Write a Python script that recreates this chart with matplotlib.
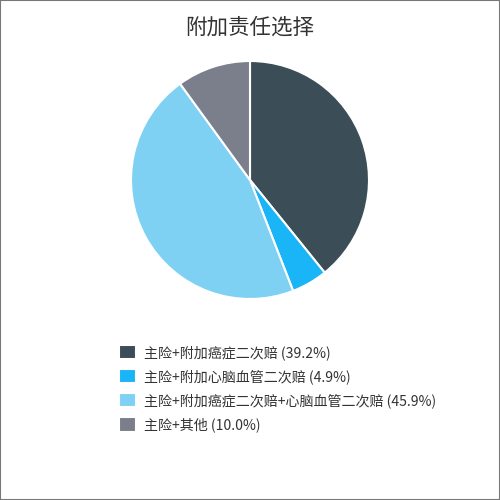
import matplotlib
matplotlib.use("Agg")
import matplotlib.pyplot as plt
from matplotlib.patches import Rectangle

plt.rcParams['font.family'] = ['Noto Sans CJK SC', 'DejaVu Sans']

title = '附加责任选择'
labels = ['主险+附加癌症二次赔', '主险+附加心脑血管二次赔',
          '主险+附加癌症二次赔+心脑血管二次赔', '主险+其他']
shares = [39.2, 4.9, 45.9, 10.0]
colors = ['#3b4d56', '#1ab5f7', '#7fd1f4', '#7b7f8c']

fig = plt.figure(figsize=(5, 5), dpi=100)
fig.patches.append(Rectangle((0, 0), 1, 1, transform=fig.transFigure,
                             fill=False, edgecolor='#777777', linewidth=1.5))

fig.text(0.5, 0.945, title, ha='center', va='center', fontsize=15.5, color='#333333')

ax = fig.add_axes([0.262, 0.402, 0.476, 0.476])
wedges, _ = ax.pie(shares, colors=colors, startangle=90, counterclock=False,
                   radius=1.0, wedgeprops=dict(edgecolor='white', linewidth=1.5))
ax.set_aspect('equal')
ax.set_xlim(-1.0, 1.0)
ax.set_ylim(-1.0, 1.0)

leg_labels = [f'{l} ({v:.1f}%)' for l, v in zip(labels, shares)]
fig.legend(wedges, leg_labels, loc='upper left', bbox_to_anchor=(0.238, 0.31),
           frameon=False, fontsize=10.1, handlelength=1.2, handleheight=1.2,
           handletextpad=0.55, labelspacing=0.65, borderaxespad=0, borderpad=0,
           labelcolor='#333333')

fig.savefig('out.png', dpi=100)
